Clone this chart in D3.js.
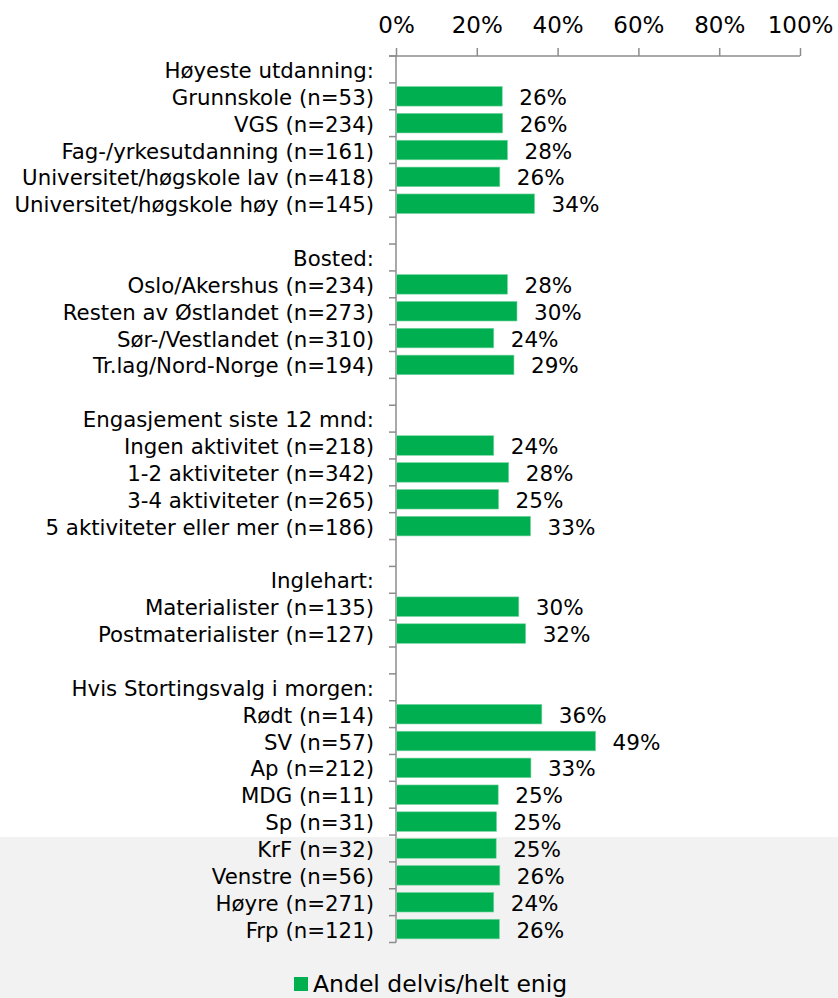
<!DOCTYPE html>
<html><head><meta charset="utf-8">
<script src="https://cdn.jsdelivr.net/npm/d3@7"></script>
<style>
html,body{margin:0;padding:0;background:#fff;}
svg{display:block;font-family:"DejaVu Sans",Verdana,sans-serif;}
</style></head>
<body><svg id="chart" width="838" height="998"></svg>
<script>
const categories = [
  "Høyeste utdanning:",
  "Grunnskole (n=53)",
  "VGS (n=234)",
  "Fag-/yrkesutdanning (n=161)",
  "Universitet/høgskole lav (n=418)",
  "Universitet/høgskole høy (n=145)",
  "",
  "Bosted:",
  "Oslo/Akershus (n=234)",
  "Resten av Østlandet (n=273)",
  "Sør-/Vestlandet (n=310)",
  "Tr.lag/Nord-Norge (n=194)",
  "",
  "Engasjement siste 12 mnd:",
  "Ingen aktivitet (n=218)",
  "1-2 aktiviteter (n=342)",
  "3-4 aktiviteter (n=265)",
  "5 aktiviteter eller mer (n=186)",
  "",
  "Inglehart:",
  "Materialister (n=135)",
  "Postmaterialister (n=127)",
  "",
  "Hvis Stortingsvalg i morgen:",
  "Rødt (n=14)",
  "SV (n=57)",
  "Ap (n=212)",
  "MDG (n=11)",
  "Sp (n=31)",
  "KrF (n=32)",
  "Venstre (n=56)",
  "Høyre (n=271)",
  "Frp (n=121)"
];
const values = [
  null, 26.3, 26.4, 27.6, 25.7, 34.3,
  null,
  null, 27.6, 29.95, 24.2, 29.2,
  null,
  null, 24.2, 27.9, 25.4, 33.3,
  null,
  null, 30.4, 32.1,
  null,
  null, 36.1, 49.4, 33.4, 25.3, 24.9, 24.8, 25.7, 24.2, 25.6
];
const xTicks = [0, 20, 40, 60, 80, 100];
const seriesName = "Andel delvis/helt enig";

const svg = d3.select("#chart");
const W = 838, H = 998;
const green = "#00B050", axisCol = "#8c8c8c";

// grey band at bottom
svg.append("rect").attr("x", 0).attr("y", 837).attr("width", W).attr("height", H - 837).attr("fill", "#f2f2f2");

const x = d3.scaleLinear().domain([0, 100]).range([396, 800]);
const y = d3.scaleBand().domain(d3.range(categories.length)).range([56, 942.5])
  .paddingInner(0.27).paddingOuter(0.135);

// top axis
const xAxis = d3.axisTop(x).tickValues(xTicks).tickSize(8).tickPadding(15)
  .tickFormat(d => d + "%");
const gx = svg.append("g").attr("transform", "translate(0,56)").call(xAxis);
gx.select(".domain").attr("stroke", axisCol).attr("stroke-width", 1.5).attr("d", "M389,0H" + x(100));
gx.selectAll(".tick line").attr("stroke", axisCol).attr("stroke-width", 1.5);
gx.selectAll(".tick text").attr("fill", "#000").style("font-size", "23px")
  .style("font-family", "'DejaVu Sans',Verdana,sans-serif");

// left axis (category boundaries)
const step = y.step();
const y0 = y.range()[0], y1 = y.range()[1];
const gy = svg.append("g");
gy.append("line").attr("x1", x(0)).attr("x2", x(0)).attr("y1", y0).attr("y2", y1)
  .attr("stroke", axisCol).attr("stroke-width", 1.5);
gy.selectAll("line.t").data(d3.range(categories.length + 1)).join("line").attr("class", "t")
  .attr("x1", x(0) - 7).attr("x2", x(0))
  .attr("y1", i => y0 + i * step).attr("y2", i => y0 + i * step)
  .attr("stroke", axisCol).attr("stroke-width", 1.5);

// category labels
svg.append("g").selectAll("text").data(categories).join("text")
  .attr("x", 374).attr("y", (d, i) => y(i) + y.bandwidth() / 2 + 8.5)
  .attr("text-anchor", "end").attr("fill", "#000").style("font-size", "21.3px")
  .text(d => d);

const rows = values.map((v, i) => ({ i, v })).filter(d => d.v !== null);

// bars
svg.append("g").selectAll("rect").data(rows).join("rect")
  .attr("x", x(0) + 0.5).attr("y", d => y(d.i))
  .attr("width", d => x(d.v) - x(0) - 0.5).attr("height", y.bandwidth())
  .attr("fill", green).attr("stroke", "#7fd6a6").attr("stroke-width", 0.6);

// value labels
const fmt = d3.format(".0%");
svg.append("g").selectAll("text").data(rows).join("text")
  .attr("x", d => x(d.v) + 17).attr("y", d => y(d.i) + y.bandwidth() / 2 + 8.5)
  .attr("fill", "#000").style("font-size", "21.5px")
  .text(d => fmt(d.v / 100));

// legend
const lg = svg.append("g");
lg.append("rect").attr("x", 294).attr("y", 977).attr("width", 14).attr("height", 14).attr("fill", green);
lg.append("text").attr("x", 313).attr("y", 992).attr("fill", "#000").style("font-size", "23.5px").text(seriesName);
</script></body></html>
